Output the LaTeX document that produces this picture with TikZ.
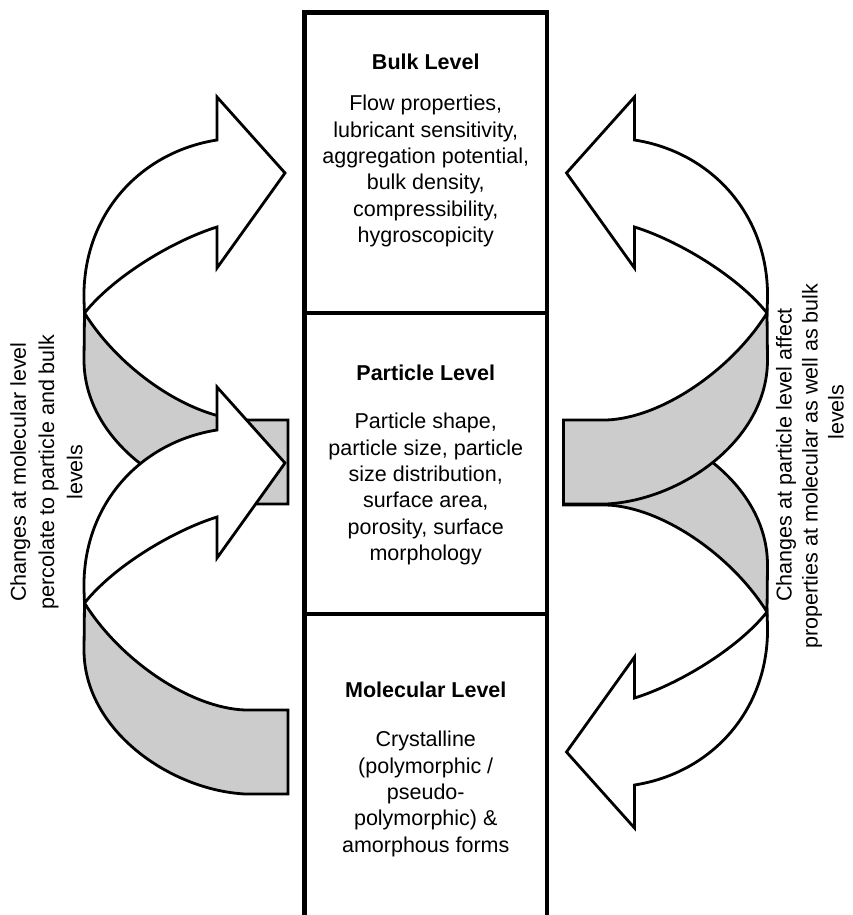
\documentclass[tikz,border=0pt]{standalone}
\usepackage{fontspec}
\setmainfont{Liberation Sans}
\tikzset{
  rib/.style={draw=black, line width=2.8pt, line join=miter, miter limit=10},
  ribfront/.style={rib, fill=white},
  ribback/.style={rib, fill=black!20},
  levelbox/.style={draw=black, line width=4.5pt, line join=miter},
  titletext/.style={font=\fontsize{21.5}{26.3}\selectfont\bfseries, align=center, inner sep=0pt},
  bodytext/.style={font=\fontsize{21.5}{26.3}\selectfont, align=center, inner sep=0pt},
  sidetext/.style={font=\fontsize{21.5}{28.3}\selectfont, align=center, rotate=90, inner sep=0pt},
}
% one twisted ribbon arrow: tail at the right end (x=288), head at upper right
\newcommand\ribbonarrowshape{%
  \path[ribback] (288,420) -- (245,420)
     .. controls (190,418) and (120,370) .. (84.5,313)
     -- (84,360) .. controls (84,440) and (170,500) .. (245,504)
     -- (288,504) -- cycle;
  \path[ribfront] (84.5,313) .. controls (115,275) and (175,240) .. (217,227)
     -- (217,268) -- (285,173) -- (217,97) -- (217,140)
     .. controls (140,152) and (82,215) .. (84,300) -- cycle;
}
\begin{document}
\begin{tikzpicture}[x=1pt,y=-1pt]
\useasboundingbox (0,0) rectangle (852,915);
\clip (0,0) rectangle (852,915);
\fill[white] (0,0) rectangle (852,915);

% ---- left ribbons (molecular -> particle -> bulk)
\begin{scope}
  \ribbonarrowshape
\end{scope}
\begin{scope}[shift={(0,290)}]
  \ribbonarrowshape
\end{scope}

% ---- right ribbons (particle -> molecular, particle -> bulk)
\begin{scope}[shift={(851.5,925)}, xscale=-1, yscale=-1]
  \ribbonarrowshape
\end{scope}
\begin{scope}[shift={(851.5,0)}, xscale=-1]
  \ribbonarrowshape
\end{scope}

% ---- central column
\draw[levelbox] (304.5,930) -- (304.5,12.5) -- (547,12.5) -- (547,930);
\draw[levelbox] (304.5,313) -- (547,313);
\draw[levelbox] (304.5,614) -- (547,614);

\node[titletext] (bulkT) at (425.75,62) {Bulk Level};
\node[bodytext] (bulkB) at (425.75,171) {Flow properties,\\lubricant sensitivity,\\aggregation potential,\\bulk density,\\compressibility,\\hygroscopicity};

\node[titletext] (partT) at (425.75,373) {Particle Level};
\node[bodytext] (partB) at (425.75,489) {Particle shape,\\particle size, particle\\size distribution,\\surface area,\\porosity, surface\\morphology};

\node[titletext] (molT) at (425.75,690) {Molecular Level};
\node[bodytext] (molB) at (425.75,794) {Crystalline\\(polymorphic /\\pseudo-\\polymorphic) \&\\amorphous forms};

% ---- side texts
\node[sidetext] (leftT) at (46.5,472) {Changes at molecular level\\percolate to particle and bulk\\levels};
\node[sidetext] (rightA) at (786,455) {Changes at particle level affect};
\node[sidetext] (rightB) at (812,466) {properties at molecular as well as bulk};
\node[sidetext] (rightC) at (836,412) {levels};
\end{tikzpicture}
\end{document}
